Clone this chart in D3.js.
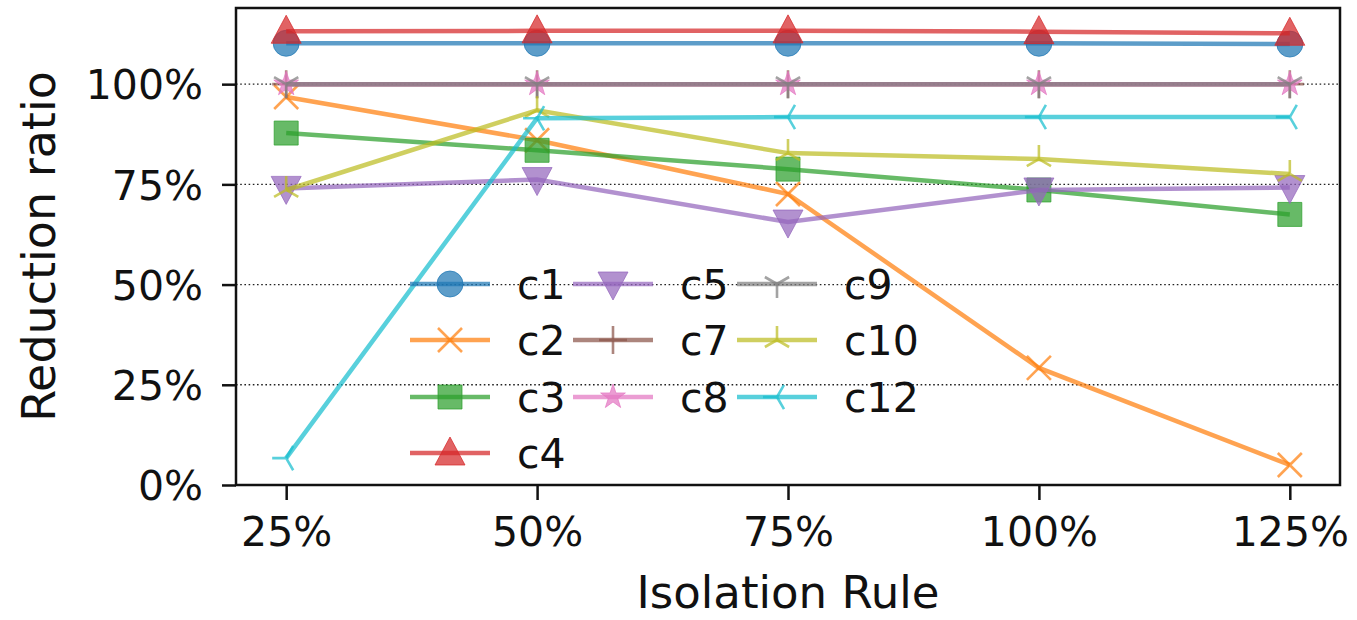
<!DOCTYPE html>
<html>
<head>
<meta charset="utf-8">
<script src="https://cdn.jsdelivr.net/npm/d3@7"></script>
<style>
  html, body { margin: 0; padding: 0; background: #fff; }
  svg { display: block; font-family: "DejaVu Sans", sans-serif; }
</style>
</head>
<body>
<svg id="chart" width="1357" height="620"></svg>
<script>
// Isolation rule levels on the x axis
const rules = ["25%", "50%", "75%", "100%", "125%"];
const yTicks = [0, 25, 50, 75, 100];

// Reduction ratio (%) per configuration
const c1  = [110.2, 110.2, 110.2, 110.2, 110.0];
const c2  = [96.8, 86.0, 72.6, 29.2, 5.0];
const c3  = [87.8, 83.5, 78.8, 73.6, 67.5];
const c4  = [113.2, 113.3, 113.3, 113.1, 112.7];
const c5  = [74.0, 76.2, 65.6, 73.6, 74.2];
const c7  = [100, 100, 100, 100, 100];
const c8  = [100, 100, 100, 100, 100];
const c9  = [100, 100, 100, 100, 100];
const c10 = [73.6, 93.5, 82.8, 81.3, 77.6];
const c12 = [6.7, 91.5, 91.8, 91.8, 91.8];

const seriesNames = ["c1", "c2", "c3", "c4", "c5", "c7", "c8", "c9", "c10", "c12"];
const seriesValues = [c1, c2, c3, c4, c5, c7, c8, c9, c10, c12];
const seriesColors = ["#1f77b4", "#ff7f0e", "#2ca02c", "#d62728", "#9467bd",
                      "#8c564b", "#e377c2", "#7f7f7f", "#bcbd22", "#17becf"];
const seriesMarkers = ["circle", "x", "square", "triUpFilled", "triDownFilled",
                       "plus", "star", "tri_down", "tri_up", "tri_left"];

const svg = d3.select("#chart");
const plot = { left: 236, right: 1340, top: 8, bottom: 485 };

const x = d3.scaleLinear().domain([-0.2, 4.2]).range([plot.left, plot.right]);
const y = d3.scaleLinear().domain([0, 119]).range([plot.bottom, plot.top]);

const ALPHA = 0.72;
const LW = 4.5;
const TICK_FONT = 41;

// dotted horizontal grid
svg.append("g")
  .selectAll("line")
  .data(yTicks)
  .join("line")
  .attr("x1", plot.left).attr("x2", plot.right)
  .attr("y1", d => y(d)).attr("y2", d => y(d))
  .attr("stroke", "#222")
  .attr("stroke-width", 1.4)
  .attr("stroke-dasharray", "1.6,2.6");

// marker path builder
function markerPath(kind) {
  const r = 13;
  switch (kind) {
    case "circle": return d3.symbol(d3.symbolCircle, Math.PI * r * r)();
    case "square": return d3.symbol(d3.symbolSquare, 24 * 24)();
    case "triUpFilled": return `M0,${-16}L${15},${12}L${-15},${12}Z`;
    case "triDownFilled": return `M0,${16}L${15},${-12}L${-15},${-12}Z`;
    case "star": return d3.symbol(d3.symbolStar, 190)();
    case "x": return `M-12,-12L12,12M-12,12L12,-12`;
    case "plus": return `M-14,0L14,0M0,-14L0,14`;
    case "tri_down": return triArms(90);
    case "tri_up": return triArms(-90);
    case "tri_left": return triArms(180);
  }
}
function triArms(mainDeg) {
  const len = 14;
  let p = "";
  for (let k = 0; k < 3; k++) {
    const a = (mainDeg + k * 120) * Math.PI / 180;
    p += `M0,0L${(len * Math.cos(a)).toFixed(2)},${(len * Math.sin(a)).toFixed(2)}`;
  }
  return p;
}
const filledKinds = new Set(["circle", "square", "triUpFilled", "triDownFilled", "star"]);

function drawMarker(g, kind, color, cx, cy) {
  const el = g.append("path")
    .attr("d", markerPath(kind))
    .attr("transform", `translate(${cx},${cy})`);
  if (filledKinds.has(kind)) {
    el.attr("fill", color).attr("fill-opacity", ALPHA)
      .attr("stroke", color).attr("stroke-opacity", ALPHA).attr("stroke-width", 1);
  } else {
    el.attr("fill", "none").attr("stroke", color)
      .attr("stroke-opacity", ALPHA).attr("stroke-width", 2.6);
  }
}

const line = d3.line().x((d, i) => x(i)).y(d => y(d));

// series lines and markers
const seriesG = svg.append("g");
seriesValues.forEach((vals, s) => {
  const g = seriesG.append("g");
  g.append("path")
    .attr("d", line(vals))
    .attr("fill", "none")
    .attr("stroke", seriesColors[s])
    .attr("stroke-opacity", ALPHA)
    .attr("stroke-width", LW);
  vals.forEach((v, i) => drawMarker(g, seriesMarkers[s], seriesColors[s], x(i), y(v)));
});

// frame
svg.append("rect")
  .attr("x", plot.left).attr("y", plot.top)
  .attr("width", plot.right - plot.left).attr("height", plot.bottom - plot.top)
  .attr("fill", "none").attr("stroke", "#111").attr("stroke-width", 2.5);

// axes
const xAxis = d3.axisBottom(x)
  .tickValues(d3.range(rules.length))
  .tickFormat(i => rules[i])
  .tickSize(15).tickPadding(17);
const gx = svg.append("g").attr("transform", `translate(0,${plot.bottom})`).call(xAxis);
gx.select(".domain").remove();
gx.selectAll(".tick line").attr("stroke", "#111").attr("stroke-width", 2.5);
gx.selectAll(".tick text").attr("font-size", TICK_FONT).attr("fill", "#111")
  .attr("font-family", "DejaVu Sans");

const yAxis = d3.axisLeft(y)
  .tickValues(yTicks)
  .tickFormat(d => d + "%")
  .tickSize(14).tickPadding(19);
const gy = svg.append("g").attr("transform", `translate(${plot.left},0)`).call(yAxis);
gy.select(".domain").remove();
gy.selectAll(".tick line").attr("stroke", "#111").attr("stroke-width", 2.5);
gy.selectAll(".tick text").attr("font-size", TICK_FONT).attr("fill", "#111")
  .attr("font-family", "DejaVu Sans").attr("dy", "0.36em");

// axis titles
svg.append("text")
  .attr("x", (plot.left + plot.right) / 2).attr("y", 608)
  .attr("text-anchor", "middle").attr("font-size", 45).attr("fill", "#111")
  .text("Isolation Rule");
svg.append("text")
  .attr("transform", `translate(55,${(plot.top + plot.bottom) / 2}) rotate(-90)`)
  .attr("text-anchor", "middle").attr("font-size", 46).attr("fill", "#111")
  .text("Reduction ratio");

// legend: 3 columns, filled column by column
const legendCols = [[0, 1, 2, 3], [4, 5, 6], [7, 8, 9]];
const colX = [450, 613, 777];
const rowY = [284, 340, 397, 453];
const legend = svg.append("g");
legendCols.forEach((col, ci) => {
  col.forEach((s, ri) => {
    const cx = colX[ci], cy = rowY[ri];
    const g = legend.append("g");
    g.append("line")
      .attr("x1", cx - 40).attr("x2", cx + 40)
      .attr("y1", cy).attr("y2", cy)
      .attr("stroke", seriesColors[s]).attr("stroke-opacity", ALPHA)
      .attr("stroke-width", LW);
    drawMarker(g, seriesMarkers[s], seriesColors[s], cx, cy);
    g.append("text")
      .attr("x", cx + 67).attr("y", cy)
      .attr("dy", "0.36em")
      .attr("font-size", TICK_FONT).attr("fill", "#111")
      .text(seriesNames[s]);
  });
});
</script>
</body>
</html>
